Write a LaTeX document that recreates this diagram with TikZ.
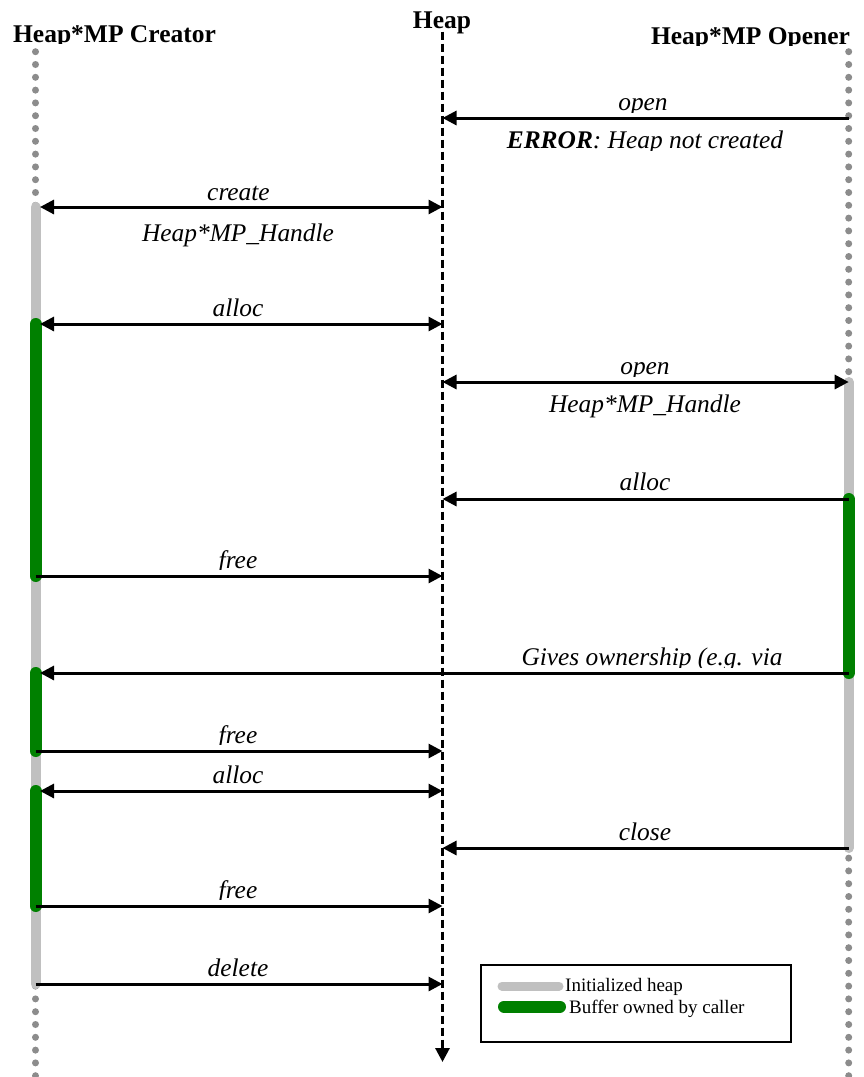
\documentclass[tikz,border=0pt]{standalone}
\usepackage{fontspec}
\setmainfont{Liberation Serif}
\usetikzlibrary{arrows.meta}
\definecolor{dotgray}{RGB}{140,140,140}
\definecolor{bargray}{RGB}{192,192,192}
\definecolor{bargreen}{RGB}{0,128,0}
\begin{document}
\begin{tikzpicture}[x=1pt,y=-1pt,
  >={Triangle[length=14pt,width=14pt]},
  msg/.style={line width=3pt, black},
  lbl/.style={font=\fontsize{25.4}{30}\selectfont\itshape, inner sep=0pt, anchor=base},
  ttl/.style={font=\fontsize{25.5}{30}\selectfont\bfseries, inner sep=0pt, anchor=base},
  lgd/.style={font=\fontsize{19}{22}\selectfont, inner sep=0pt, anchor=base west},
  dotline/.style={dotgray, line width=7pt, line cap=round, dash pattern=on 0pt off 12.8pt},
  heapline/.style={black, line width=3pt, dash pattern=on 8pt off 4pt},
  greybar/.style={bargray, line width=10pt, line cap=round},
  greenbar/.style={bargreen, line width=12pt, line cap=round},
  lgdbox/.style={draw=black, line width=1.3pt}
]
\useasboundingbox (0,0) rectangle (864,1077);

% lifeline coordinates
\coordinate (Ctop) at (35.5,51.7);
\coordinate (Cbot) at (35.5,1080);
\coordinate (Otop) at (848.7,51.7);
\coordinate (Obot) at (848.7,1080);
\coordinate (Htop) at (442.5,31.7);
\coordinate (Hbot) at (442.5,1062);

% message coordinates
\foreach \n/\y in {1/118,2/207,3/324,4/382,5/499,6/576,7/673,8/751,9/791,10/848,11/906,12/984}{
  \coordinate (C\n) at (35.5,\y);
  \coordinate (H\n) at (442.5,\y);
  \coordinate (O\n) at (848.7,\y);
}

% titles
\node[ttl] (tHeap) at (442,28) {Heap};
\begin{scope}
  \clip (0,0) rectangle (864,43.6);
  \node[ttl] (tCreator) at (114.5,42.7) {Heap*MP Creator};
\end{scope}
\begin{scope}
  \clip (0,0) rectangle (864,45.3);
  \node[ttl] (tOpener) at (750.5,44.5) {Heap*MP Opener};
\end{scope}

% lifelines
\draw[dotline] (Ctop) -- (Cbot);
\draw[dotline] (Otop) -- (Obot);
\draw[heapline,->] (Htop) -- (Hbot);

% activation bars
\draw[greybar] (C2) -- (C12);
\draw[greybar] (O4) -- (O10);
\draw[greenbar] (C3) -- (C6);
\draw[greenbar] (C7) -- (C8);
\draw[greenbar] (C9) -- (C11);
\draw[greenbar] (O5) -- (O7);

% messages
\draw[msg,->] (O1) -- (H1);
\draw[msg,<->,shorten <=4.5pt] (C2) -- (H2);
\draw[msg,<->,shorten <=4.5pt] (C3) -- (H3);
\draw[msg,<->] (H4) -- (O4);
\draw[msg,->] (O5) -- (H5);
\draw[msg,->] (C6) -- (H6);
\draw[msg,->,shorten >=4.5pt] (O7) -- (C7);
\draw[msg,->] (C8) -- (H8);
\draw[msg,<->,shorten <=4.5pt] (C9) -- (H9);
\draw[msg,->] (O10) -- (H10);
\draw[msg,->] (C11) -- (H11);
\draw[msg,->] (C12) -- (H12);

% labels
\begin{scope}
  \clip (0,60) rectangle (864,112);
  \node[lbl] (l1) at (643,110) {open};
\end{scope}
\begin{scope}
  \clip (0,121) rectangle (864,150.3);
  \node[lbl] (l1b) at (645,148.3) {\textbf{ERROR}: Heap not created};
\end{scope}
\node[lbl] (l2) at (238.5,200.5) {create};
\node[lbl] (l2b) at (238,241) {Heap*MP\_Handle};
\node[lbl] (l3) at (238,316) {alloc};
\begin{scope}
  \clip (0,340) rectangle (864,376);
  \node[lbl] (l4) at (645,374.3) {open};
\end{scope}
\node[lbl] (l4b) at (645,412.7) {Heap*MP\_Handle};
\node[lbl] (l5) at (645,490.5) {alloc};
\begin{scope}
  \clip (0,540) rectangle (864,569.5);
  \node[lbl] (l6) at (238,568) {free};
\end{scope}
\begin{scope}
  \clip (0,630) rectangle (864,667);
  \node[lbl] (l7) at (652,665.5) {Gives ownership (e.g. via};
\end{scope}
\begin{scope}
  \clip (0,715) rectangle (864,744.5);
  \node[lbl] (l8) at (238,743) {free};
\end{scope}
\node[lbl] (l9) at (238,783) {alloc};
\node[lbl] (l10) at (645,840) {close};
\begin{scope}
  \clip (0,870) rectangle (864,899.5);
  \node[lbl] (l11) at (238,898) {free};
\end{scope}
\node[lbl] (l12) at (238,976) {delete};

% legend
\draw[lgdbox] (481,965) rectangle (791,1042);
\coordinate (g1a) at (502,986);
\coordinate (g1b) at (559,986);
\coordinate (g2a) at (504,1006.5);
\coordinate (g2b) at (560,1006.5);
\draw[bargray, line width=9pt, line cap=round] (g1a) -- (g1b);
\draw[bargreen, line width=12pt, line cap=round] (g2a) -- (g2b);
\node[lgd] (lg1) at (565,991.5) {Initialized heap};
\node[lgd] (lg2) at (569,1013.3) {Buffer owned by caller};
\end{tikzpicture}
\end{document}
